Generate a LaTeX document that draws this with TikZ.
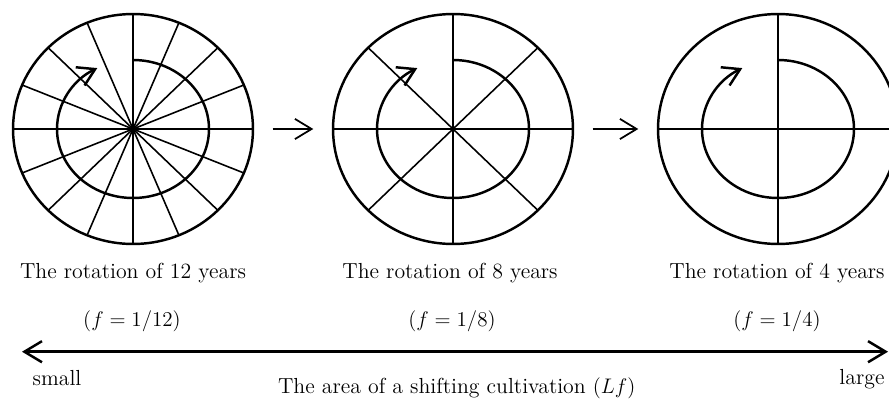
\documentclass[tikz,border=0pt]{standalone}
\usepackage{amsmath}
\usetikzlibrary{arrows.meta, shapes.geometric, calc}

\begin{document}
\begin{tikzpicture}[
  x=0.02cm, y=0.02cm,
  every node/.style={font=\fontsize{12.4}{15}\selectfont, text=black},
  wheel/.style={draw, ellipse, line width=1.4pt, inner sep=0pt,
                minimum width=4.8cm, minimum height=4.6cm},
  spoke/.style={line width=0.9pt},
  spiral/.style={line width=1.4pt, -{Straight Barb[length=9.5pt, width=11.5pt]}},
  arr/.style={line width=1pt, -{Straight Barb[length=9.5pt, width=11.5pt]},
              shorten <=0.37cm, shorten >=0.37cm},
  areaarr/.style={line width=1.4pt,
                {Straight Barb[length=10pt, width=12pt]}-{Straight Barb[length=10pt, width=12pt]}},
  caption/.style={anchor=base},
]
  \useasboundingbox (0,0) rectangle (889,-399);

  \node[wheel] (rot12) at (133,-129) {};
  \node[wheel] (rot8)  at (453,-129) {};
  \node[wheel] (rot4)  at (778,-129) {};

  % spokes of each wheel
  \foreach \a in {0,22.5,...,337.5}
    \draw[spoke] (rot12.center) -- ++(\a:120 and 115);
  \foreach \a in {0,45,...,315}
    \draw[spoke] (rot8.center) -- ++(\a:120 and 115);
  \foreach \a in {0,90,...,270}
    \draw[spoke] (rot4.center) -- ++(\a:120 and 115);

  % rotation arrows
  \foreach \w in {rot12, rot8, rot4}
    \draw[spiral] ($(\w.center)+(0,69)$)
      arc[start angle=90, end angle=-242, x radius=76, y radius=69];

  \draw[arr] (rot12) -- (rot8);
  \draw[arr] (rot8) -- (rot4);

  \node[caption] (cap12) at (133,-278.3) {The rotation of 12 years};
  \node[caption] (cap8)  at (450,-278.3) {The rotation of 8 years};
  \node[caption] (cap4)  at (777,-278.3) {The rotation of 4 years};

  \node[caption] (f12) at (132,-326) {$(f = 1/12)$};
  \node[caption] (f8)  at (452,-326) {$(f = 1/8)$};
  \node[caption] (f4)  at (777,-326) {$(f = 1/4)$};

  \coordinate (lend) at (22,-351.7);
  \coordinate (rend) at (888,-351.7);
  \draw[areaarr] (lend) -- (rend);

  \node[caption] (small) at (57,-385)    {small};
  \node[caption] (area)  at (456.7,-393.3) {The area of a shifting cultivation $(Lf)$};
  \node[caption] (large) at (862,-384)   {large};
\end{tikzpicture}
\end{document}
